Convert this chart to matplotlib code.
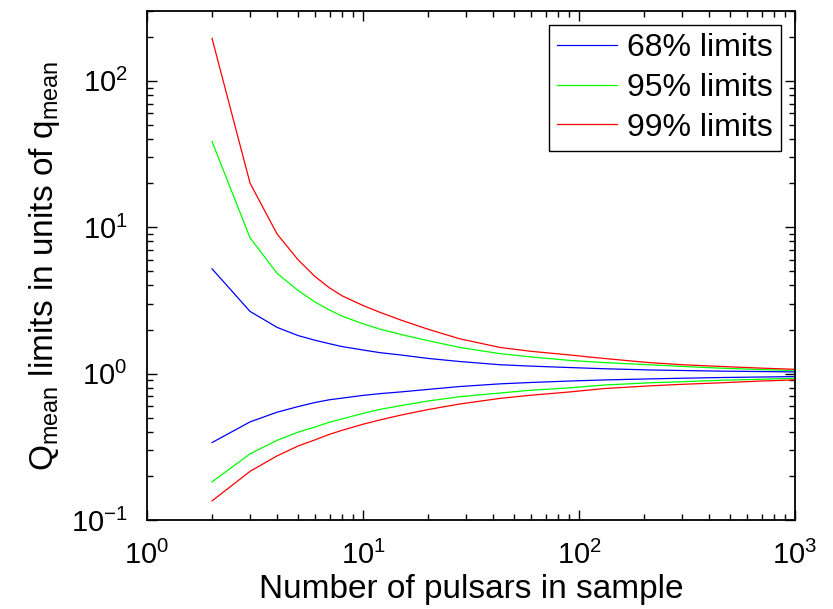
import matplotlib
matplotlib.use("Agg")
import matplotlib.pyplot as plt
from matplotlib.ticker import LogLocator, NullFormatter

plt.rcParams['font.family'] = ['Liberation Sans', 'DejaVu Sans']
plt.rcParams['mathtext.fontset'] = 'custom'
plt.rcParams['mathtext.rm'] = 'Liberation Sans'
plt.rcParams['mathtext.it'] = 'Liberation Sans:italic'
plt.rcParams['mathtext.bf'] = 'Liberation Sans:bold'

# Number of pulsars in sample
n = [2, 3, 4, 5, 6, 7, 8, 10, 12, 15, 20, 28, 43, 60, 91, 130, 210, 300, 450, 700, 1000]

# 68% limits
blue_up = [5.2, 2.66, 2.07, 1.82, 1.69, 1.60, 1.53, 1.45, 1.39, 1.34, 1.27, 1.21, 1.15,
           1.125, 1.10, 1.08, 1.06, 1.05, 1.04, 1.033, 1.027]
blue_lo = [0.338, 0.468, 0.545, 0.595, 0.635, 0.663, 0.68, 0.71, 0.73, 0.75, 0.78, 0.816,
           0.851, 0.87, 0.89, 0.905, 0.92, 0.93, 0.94, 0.948, 0.954]
# 95% limits
green_up = [38.5, 8.46, 4.85, 3.7, 3.08, 2.72, 2.47, 2.19, 2.01, 1.85, 1.68, 1.51, 1.37,
            1.30, 1.23, 1.19, 1.15, 1.12, 1.09, 1.065, 1.05]
green_lo = [0.182, 0.283, 0.35, 0.398, 0.432, 0.466, 0.49, 0.535, 0.57, 0.605, 0.65, 0.695,
            0.737, 0.77, 0.80, 0.835, 0.865, 0.88, 0.90, 0.915, 0.929]
# 99% limits
red_up = [195, 20, 9.0, 6.0, 4.6, 3.85, 3.4, 2.92, 2.62, 2.32, 2.01, 1.73, 1.51, 1.42,
          1.34, 1.27, 1.19, 1.15, 1.12, 1.09, 1.07]
red_lo = [0.135, 0.215, 0.274, 0.32, 0.353, 0.385, 0.41, 0.451, 0.483, 0.521, 0.568, 0.62,
          0.677, 0.712, 0.75, 0.79, 0.824, 0.845, 0.865, 0.89, 0.906]

labels = ['68% limits', '95% limits', '99% limits']
colors = ['#0000ff', '#00ff00', '#ff0000']

fig = plt.figure(figsize=(8.33, 6.09), dpi=100)
ax = fig.add_axes([147/833, 1-520/609, (795-147)/833, (520-11)/609])

lw = 0.9
for up, lo, c, lab in [(blue_up, blue_lo, colors[0], labels[0]),
                       (green_up, green_lo, colors[1], labels[1]),
                       (red_up, red_lo, colors[2], labels[2])]:
    ax.plot(n, up, color=c, lw=lw, label=lab)
    ax.plot(n, lo, color=c, lw=lw)

ax.set_xscale('log')
ax.set_yscale('log')
ax.set_xlim(1, 1000)
ax.set_ylim(0.1, 300)

ax.xaxis.set_major_locator(LogLocator(base=10, numticks=10))
ax.yaxis.set_major_locator(LogLocator(base=10, numticks=10))
ax.xaxis.set_minor_locator(LogLocator(base=10, subs=range(2, 10), numticks=20))
ax.yaxis.set_minor_locator(LogLocator(base=10, subs=range(2, 10), numticks=20))
ax.xaxis.set_minor_formatter(NullFormatter())
ax.yaxis.set_minor_formatter(NullFormatter())

ax.tick_params(which='both', direction='in', top=True, right=True, labelsize=21, width=1.0)
ax.tick_params(which='major', length=7)
ax.tick_params(which='minor', length=4)
ax.tick_params(axis='x', which='major', pad=15)
ax.tick_params(axis='y', which='major', pad=14)
for s in ax.spines.values():
    s.set_linewidth(1.3)

ax.set_xlabel('Number of pulsars in sample', fontsize=24, labelpad=3)
ax.set_ylabel(r'Q$_{\rm mean}$ limits in units of q$_{\rm mean}$', fontsize=24, labelpad=6)

leg = ax.legend(loc='upper right', fontsize=23, frameon=True, fancybox=False,
                edgecolor='black', framealpha=1, handlelength=1.9, borderpad=0.25,
                labelspacing=0.3, handletextpad=0.3, borderaxespad=0.45)
leg.get_frame().set_linewidth(1.0)

fig.savefig('out.png', dpi=100)
